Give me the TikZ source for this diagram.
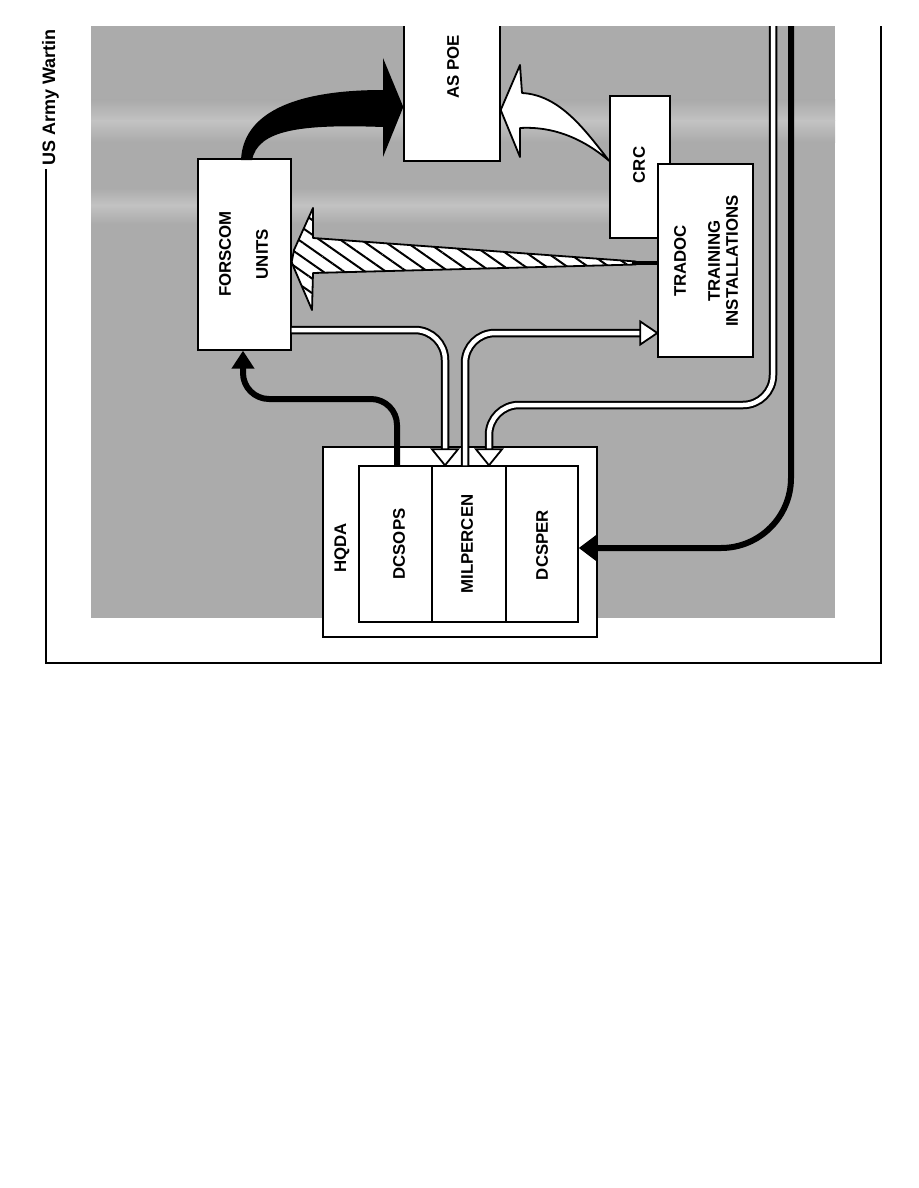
\documentclass[tikz,border=0pt]{standalone}
\usepackage{fontspec}
\setmainfont{Liberation Sans}
\usetikzlibrary{arrows.meta,patterns.meta,calc}
\definecolor{bggray}{HTML}{ABABAB}
\definecolor{bandgray}{HTML}{C2C2C2}
\begin{document}
\begin{tikzpicture}[x=1pt,y=-1pt,
  box/.style={draw=black,line width=1.4pt,fill=white,inner sep=0pt},
  lbl/.style={rotate=90,font=\bfseries\fontsize{16.8}{18}\selectfont,align=center,inner sep=0pt},
  frame/.style={draw=black,line width=1.3pt},
  blk/.style={draw=black,line width=6pt,rounded corners=26pt},
  dbl/.style={draw=black,double=white,double distance=4.5pt,line width=2pt,rounded corners=30pt},
  ohead/.style={draw=black,fill=white,line width=1.8pt,line join=miter},
  outl/.style={draw=black,line width=1.8pt,line join=round}]
\useasboundingbox (0,0) rectangle (918,1188);
\begin{scope}
\clip (0,27) rectangle (918,1188);
% background
\fill[bggray] (91,20) rectangle (835,618);
\shade[top color=bggray,bottom color=bandgray,draw=none] (91,100) rectangle (835,121);
\shade[top color=bandgray,bottom color=bggray,draw=none] (91,121) rectangle (835,142);
\shade[top color=bggray,bottom color=bandgray,draw=none] (91,188) rectangle (660,205);
\shade[top color=bandgray,bottom color=bggray,draw=none] (91,205) rectangle (660,224);
% frame and title
\node[rotate=90,anchor=base west,font=\bfseries\fontsize{18}{20}\selectfont,inner sep=0pt] (title) at (55,166) {US Army Wartin};
\draw[frame] (46,169) -- (46,663) -- (881,663) -- (881,20);
% boxes
\node[box,minimum width=96pt,minimum height=142pt] (aspoe) at (452,90) {};
\node[lbl] (taspoe) at (453,67) {AS POE};
\node[box,minimum width=93pt,minimum height=191pt] (forscom) at (244.5,254.5) {};
\node[lbl,font=\bfseries\fontsize{16.8}{37}\selectfont] (tforscom) at (243.5,254) {FORSCOM\\UNITS};
\node[box,minimum width=60pt,minimum height=142pt] (crc) at (640,167) {};
\node[lbl] (tcrc) at (639,165) {CRC};
\node[box,minimum width=95pt,minimum height=193pt] (tradoc) at (705.5,260.5) {};
\node[lbl] (ttradoc) at (706,261) {TRADOC\\[16pt]TRAINING\\INSTALLATIONS};
\node[box,minimum width=274pt,minimum height=190pt] (hqda) at (460,542) {};
\node[lbl] (thqda) at (342,548) {HQDA};
\node[box,minimum width=73pt,minimum height=156pt] (dcsops) at (395.5,544) {};
\node[box,minimum width=74pt,minimum height=156pt] (milpercen) at (469,544) {};
\node[box,minimum width=72pt,minimum height=156pt] (dcsper) at (542,544) {};
\node[lbl] (tdcsops) at (399,544) {DCSOPS};
\node[lbl] (tmilpercen) at (467,544) {MILPERCEN};
\node[lbl] (tdcsper) at (542,545) {DCSPER};
% black curved arrow FORSCOM -> AS POE
\fill[black] (241,160) .. controls (243,115) and (290,90) .. (383,90) -- (383,58)
  -- (aspoe.west |- 0,107) -- (383,157) -- (383,127)
  .. controls (300,124) and (258,130) .. (252,160) -- cycle;
% white curved arrow CRC -> AS POE
\path[outl,fill=white] (crc.west |- 0,161) .. controls (585,130) and (560,95) .. (522,93) -- (520,65)
  -- (aspoe.east |- 0,110) -- (520,157) -- (520,128)
  .. controls (555,126) and (585,140) .. (crc.west |- 0,161) -- cycle;
% hatched arrow TRADOC -> FORSCOM
\path[outl,preaction={fill=white},pattern={Lines[angle=-35,distance=12pt,line width=2pt]}]
  (forscom.east |- 0,262) -- (294,250) -- (313,208) -- (313,238) -- (636,261.5) -- (636,264.5) -- (313,273) -- (312,310) -- (294,268) -- cycle;
\draw[black,line width=4pt] (632,263) -- (tradoc.west |- 0,263);
% black arrow DCSOPS -> FORSCOM
\draw[blk,-{Triangle[length=18pt,width=22pt]}] (dcsops.north -| 397,0) -- (397,399) -- (243,399) -- (forscom.south -| 243,0);
% black arrow from top -> DCSPER
\draw[blk,rounded corners=70pt,-{Triangle[length=19pt,width=27pt]}] (791,20) -- (791,548) -- (dcsper.east |- 0,548);
% double arrows
\draw[dbl] (forscom.east |- 0,330) -- (445,330) -- (445,449);
\coordinate (h5) at (milpercen.north -| 445,0);
\path[ohead] ($(h5)+(-13,-16)$) -- ($(h5)+(13,-16)$) -- (h5) -- cycle;
\draw[dbl] (milpercen.north -| 465,0) -- (465,333) -- (641,333);
\coordinate (h6) at (tradoc.west |- 0,333);
\path[ohead] ($(h6)+(-17,-11.5)$) -- ($(h6)+(-17,11.5)$) -- (h6) -- cycle;
\draw[dbl] (773,20) -- (773,405) -- (489,405) -- (489,449);
\coordinate (h7) at (milpercen.north -| 489,0);
\path[ohead] ($(h7)+(-13,-16)$) -- ($(h7)+(13,-16)$) -- (h7) -- cycle;
\end{scope}
\end{tikzpicture}
\end{document}
